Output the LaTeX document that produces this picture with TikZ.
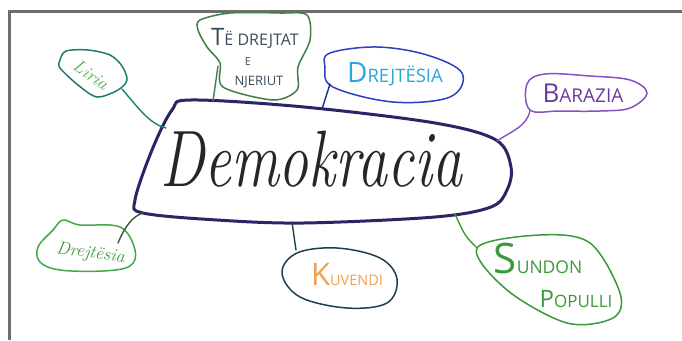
\documentclass[tikz,border=0pt]{standalone}
\usepackage{fontspec}
\newfontfamily\hand{Open Sans}
\definecolor{framegray}{HTML}{6E6E6E}
\definecolor{navy}{HTML}{2B2566}
\definecolor{tealc}{HTML}{1D7F6E}
\definecolor{liriatext}{HTML}{4CB050}
\definecolor{tdgreen}{HTML}{3F7F45}
\definecolor{tdtext}{HTML}{3D4A5A}
\definecolor{royal}{HTML}{2E3FBF}
\definecolor{cyantext}{HTML}{28A8DC}
\definecolor{purp}{HTML}{8A50C0}
\definecolor{purptext}{HTML}{6A3AA0}
\definecolor{leafgreen}{HTML}{45A848}
\definecolor{darkgreen}{HTML}{3A5A3A}
\definecolor{kuvline}{HTML}{1F3F50}
\definecolor{orangetext}{HTML}{F0A050}
\definecolor{sungreen}{HTML}{3A9A3A}
\newcommand{\hwcaps}[4]{{\fontsize{#1}{#1}\selectfont #3}{\fontsize{#2}{#2}\selectfont\MakeUppercase{#4}}}
\tikzset{
  blobline/.style={line width=1.5pt, line join=round},
  conn/.style={line width=1.4pt, line cap=round},
  hw/.style={inner sep=0pt, anchor=base, font=\hand},
}
\begin{document}
\begin{tikzpicture}[x=1pt,y=-1pt]
\useasboundingbox (0,0) rectangle (682,340);
\fill[white] (0,0) rectangle (682,340);
\draw[framegray, line width=2.6pt] (682,11.5) -- (9.3,11.5) -- (9.3,340);

% central blob
\draw[navy, line width=3pt, line join=round] plot[smooth cycle, tension=0.55] coordinates {(191,100) (304,107) (435,123) (496,140) (511,167) (507,190) (491,207) (435,217) (304,223) (217,220) (143,213) (135,200) (152,150) (172,110)};
\node[inner sep=0pt, anchor=base, text=black!85] (demo) at (311,186) {\scalebox{1.03}[1.38]{\fontsize{58}{58}\selectfont\itshape Demokracia}};

% connector end points on the central blob
\coordinate (cLiria) at (166,128);
\coordinate (cTD) at (213,101);
\coordinate (cDrejT) at (322,109);
\coordinate (cBar) at (497,141);
\coordinate (cSun) at (455,214);
\coordinate (cKuv) at (292,222);
\coordinate (cDrejB) at (143,213);

% Liria
\draw[tealc, blobline] plot[smooth cycle, tension=0.5] coordinates {(60,60) (66,51) (88,50) (110,55) (122,66) (127,80) (118,90) (97,97) (78,85) (60,68)};
\node[inner sep=0pt, text=liriatext, rotate=-35] (liria) at (91,75) {\fontsize{18}{18}\selectfont\itshape Liria};
\coordinate (eLiria) at (122,89);
\draw[tealc, conn] (eLiria) .. controls (140,110) and (150,124) .. (cLiria);

% Te drejtat e njeriut
\draw[tdgreen, blobline] plot[smooth cycle, tension=0.5] coordinates {(198,30) (200,20) (230,13) (280,13) (307,15) (310,40) (298,67) (297,90) (273,100) (223,87) (220,63) (207,47)};
\node[hw, text=tdtext] (td1) at (255,45) {\hwcaps{24}{16}{T}{ë drejtat}};
\node[hw, text=tdtext] (td2) at (248,65) {\hwcaps{11}{11}{E}{}};
\node[hw, text=tdtext] (td3) at (259,85) {\hwcaps{13}{13}{N}{jeriut}};
\coordinate (eTD) at (218,66);
\draw[tdgreen, conn] (eTD) -- (cTD);

% Drejtesia (top)
\draw[royal, blobline] plot[smooth cycle, tension=0.6] coordinates {(330,53) (377,47) (427,55) (462,73) (450,97) (393,102) (333,87) (325,67)};
\node[hw, text=cyantext] (drejT) at (395,82) {\hwcaps{28}{18.5}{D}{rejtësia}};
\coordinate (eDrejT) at (330,84);
\draw[royal!70!black, conn] (eDrejT) -- (cDrejT);

% Barazia
\draw[purp, blobline] plot[smooth cycle, tension=0.6] coordinates {(527,84) (545,74) (590,76) (630,80) (647,93) (630,108) (600,111) (560,111) (530,110)};
\node[hw, text=purptext] (bar) at (583,102) {\hwcaps{26}{19}{B}{arazia}};
\coordinate (eBar) at (530,110);
\draw[purp, conn] (eBar) .. controls (528,126) and (510,132) .. (cBar);

% Drejtesia (bottom left)
\draw[leafgreen, blobline] plot[smooth cycle, tension=0.6] coordinates {(63,220) (80,225) (120,227) (135,250) (130,266) (103,271) (60,270) (40,262) (38,247) (53,230)};
\node[inner sep=0pt, anchor=base, text=sungreen, rotate=-8] (drejB) at (90,258) {\fontsize{18}{18}\selectfont\itshape Drejtësia};
\coordinate (eDrejB) at (118,243);
\draw[darkgreen, conn] (eDrejB) .. controls (125,226) and (133,216) .. (cDrejB);

% Kuvendi
\draw[kuvline, blobline] plot[smooth cycle, tension=0.6] coordinates {(282,273) (297,253) (337,248) (380,258) (397,279) (387,303) (347,308) (300,297)};
\node[hw, text=orangetext] (kuv) at (347,285) {\hwcaps{31}{14.5}{K}{uvendi}};
\coordinate (eKuv) at (296,250);
\draw[kuvline, conn] (eKuv) -- (cKuv);

% Sundon populli
\draw[sungreen, blobline] plot[smooth cycle, tension=0.55] coordinates {(477,248) (540,235) (590,243) (620,293) (613,318) (567,323) (507,290)};
\node[hw, text=sungreen] (sun1) at (538,273) {\hwcaps{42}{17.5}{S}{undon}};
\node[hw, text=sungreen] (sun2) at (576,307) {\hwcaps{24}{17}{P}{opulli}};
\coordinate (eSun) at (477,248);
\draw[sungreen, conn] (eSun) .. controls (465,236) .. (cSun);
\end{tikzpicture}
\end{document}
